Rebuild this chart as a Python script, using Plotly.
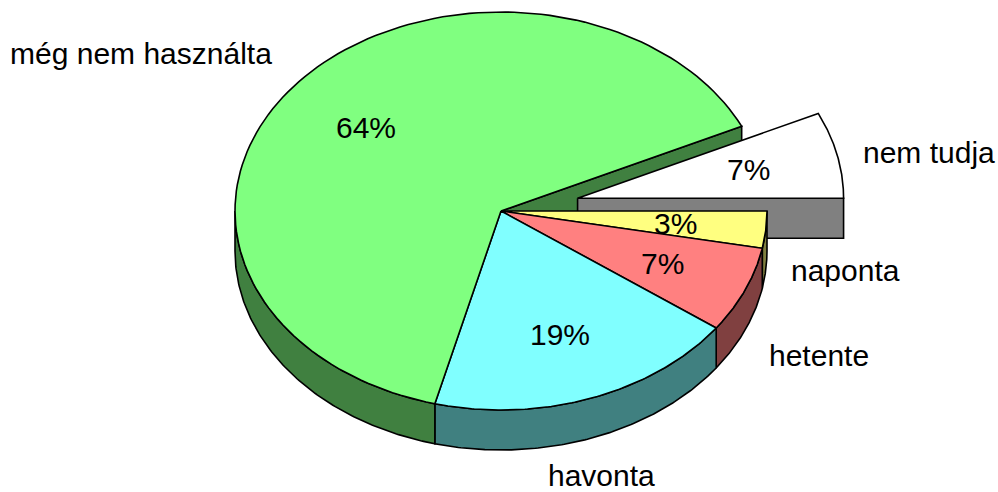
import numpy as np
import plotly.graph_objects as go

# Slices, clockwise starting at the 3 o'clock position
categories = ["naponta", "hetente", "havonta", "még nem használta", "nem tudja"]
values = [3, 7, 19, 64, 7]
exploded = [False, False, False, False, True]

# Styling
top_colors = ["#FFFF80", "#FF8080", "#80FFFF", "#80FF80", "#FFFFFF"]
side_colors = ["#808040", "#804040", "#408080", "#408040", "#808080"]
# Outside category label anchors (pixel space)
label_pos = [(845, 270), (819, 355), (601, 475), (141, 53), (929, 152)]

W, H = 998, 492
CX, CY = 501, 211      # centre of the top face
RX, RY = 266, 199      # ellipse radii of the top face
DEPTH = 40             # thickness of the disc
PULL = 0.295           # explode distance (fraction of radius)
LINE = dict(color="black", width=1.6)
FONT = dict(family="Liberation Sans, Arial, sans-serif", size=30, color="black")

total = float(sum(values))
fracs = [v / total for v in values]
bounds = np.concatenate([[0.0], np.cumsum(fracs)]) * 2 * np.pi

fig = go.Figure()


def poly(xs, ys, color):
    fig.add_trace(go.Scatter(
        x=list(xs) + [xs[0]], y=list(ys) + [ys[0]], mode="lines",
        fill="toself", fillcolor=color, line=LINE, hoverinfo="skip",
        showlegend=False))


def centre(i):
    if not exploded[i]:
        return CX, CY
    mid = 0.5 * (bounds[i] + bounds[i + 1])
    return CX + PULL * RX * np.cos(mid), CY + PULL * RY * np.sin(mid)


def arc(cx, cy, a1, a2, n=120):
    t = np.linspace(a1, a2, n)
    return cx + RX * np.cos(t), cy + RY * np.sin(t)


def wall(i, ang):
    cx, cy = centre(i)
    ex, ey = cx + RX * np.cos(ang), cy + RY * np.sin(ang)
    poly([cx, ex, ex, cx], [cy, ey, ey + DEPTH, cy + DEPTH], side_colors[i])


def side(i):
    cx, cy = centre(i)
    a1, a2 = bounds[i], bounds[i + 1]
    lo, hi = max(a1, 0.0), min(a2, np.pi)
    if hi <= lo:
        return
    xt, yt = arc(cx, cy, lo, hi)
    poly(np.concatenate([xt, xt[::-1]]),
         np.concatenate([yt, yt[::-1] + DEPTH]), side_colors[i])


def top(i):
    cx, cy = centre(i)
    xt, yt = arc(cx, cy, bounds[i], bounds[i + 1])
    poly(np.concatenate([[cx], xt]), np.concatenate([[cy], yt]), top_colors[i])


n = len(values)
# cut faces exposed by exploded neighbours
for i in range(n):
    nxt = (i + 1) % n
    if exploded[nxt] and not exploded[i]:
        wall(i, bounds[i + 1])
# exploded slices sit behind the disc
for i in range(n):
    if exploded[i]:
        wall(i, bounds[i + 1])
        side(i)
        top(i)
for i in range(n):
    if not exploded[i]:
        side(i)
for i in range(n):
    if not exploded[i]:
        top(i)

# percentage labels inside slices, category labels outside
for i in range(n):
    cx, cy = centre(i)
    mid = 0.5 * (bounds[i] + bounds[i + 1])
    fig.add_annotation(x=cx + 0.66 * RX * np.cos(mid), y=cy + 0.66 * RY * np.sin(mid),
                       text=f"{round(fracs[i] * 100)}%", showarrow=False, font=FONT,
                       xanchor="center", yanchor="middle")
    lx, ly = label_pos[i]
    fig.add_annotation(x=lx, y=ly, text=categories[i], showarrow=False, font=FONT,
                       xanchor="center", yanchor="middle", borderpad=0)

fig.update_layout(
    width=W, height=H, margin=dict(l=0, r=0, t=0, b=0),
    paper_bgcolor="white", plot_bgcolor="white",
    xaxis=dict(range=[0, W], visible=False, fixedrange=True),
    yaxis=dict(range=[H, 0], visible=False, fixedrange=True),
)
fig.write_html("out.html")
